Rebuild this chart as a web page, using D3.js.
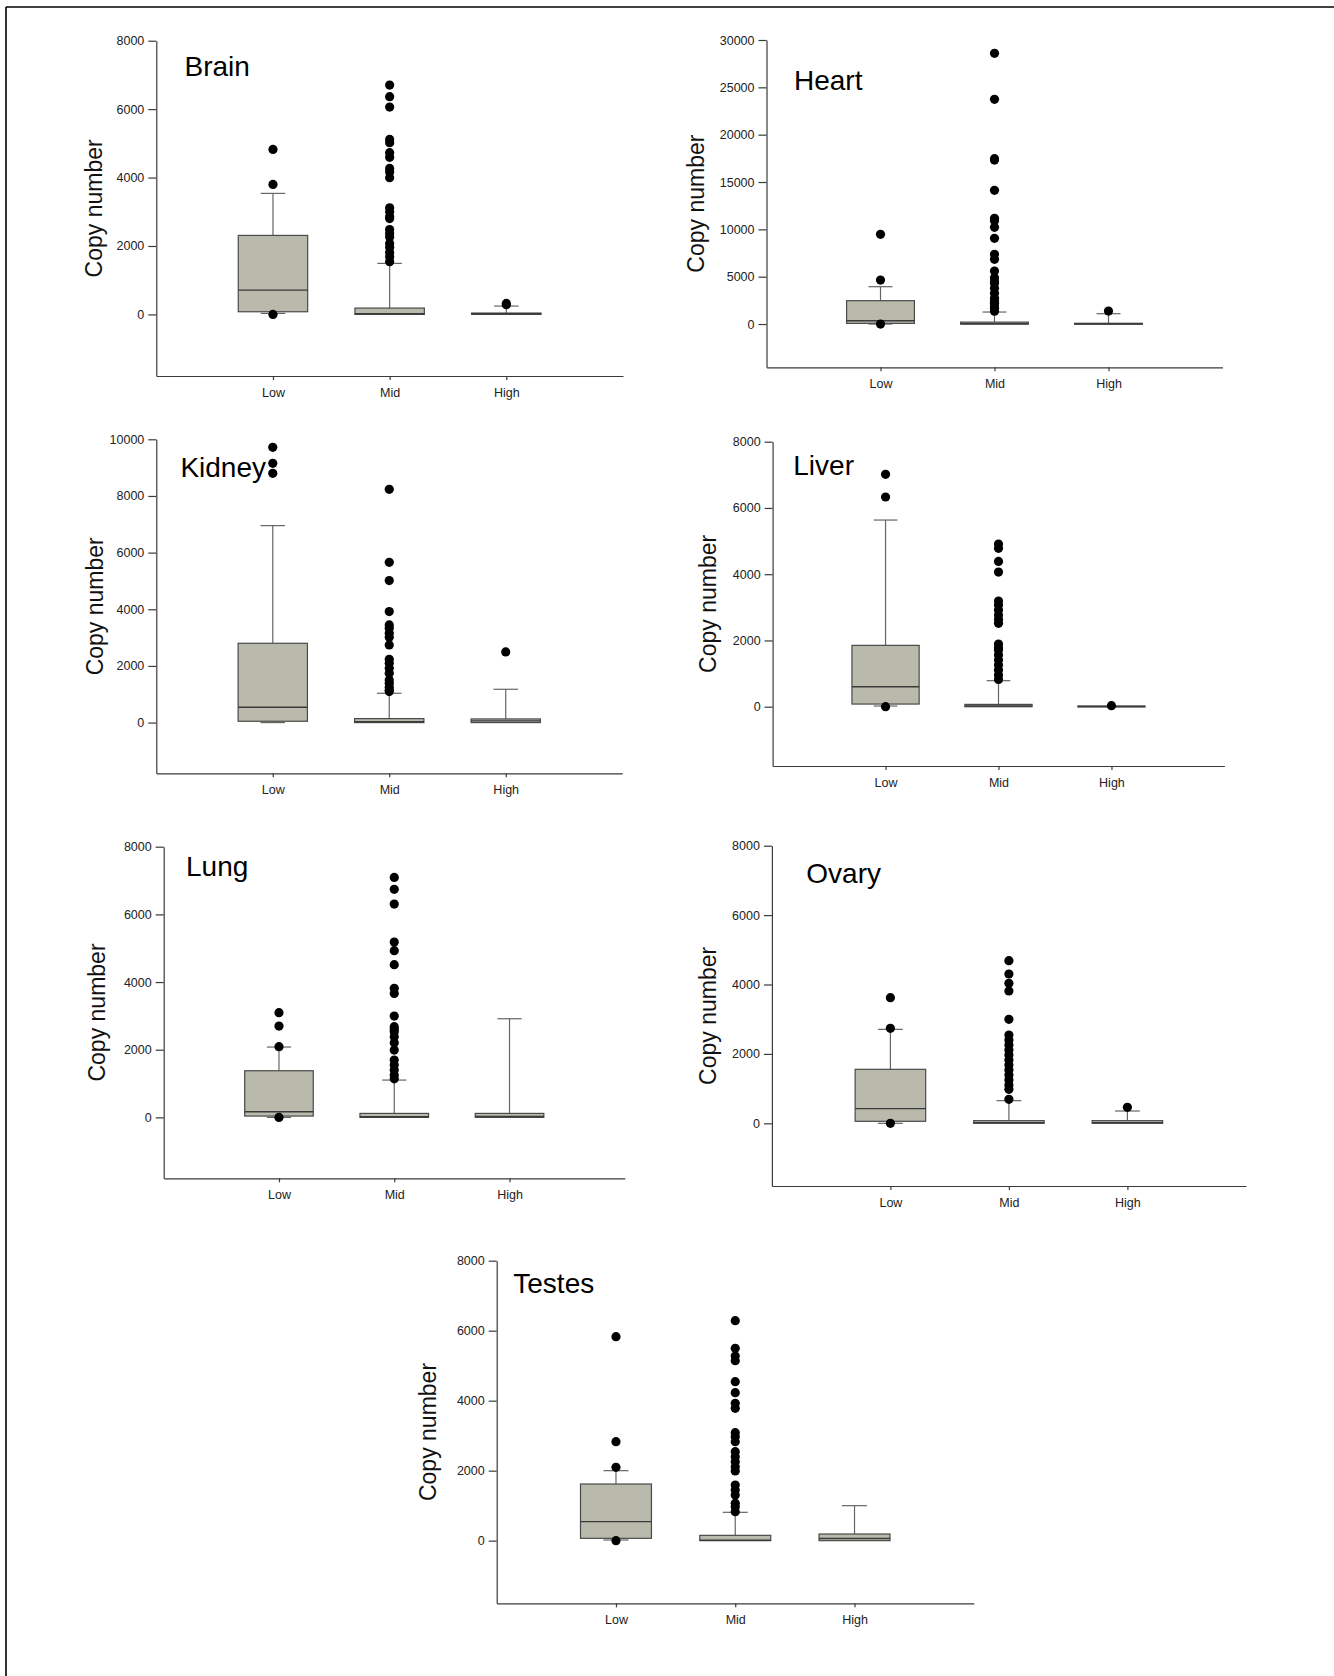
<!DOCTYPE html>
<html>
<head>
<meta charset="utf-8">
<script src="https://cdn.jsdelivr.net/npm/d3@7"></script>
<style>
  body { margin: 0; background: #fff; }
  svg text { font-family: "Liberation Sans", Arial, sans-serif; }
</style>
</head>
<body>
<div id="graph"></div>
<script>
const groups = ["Low", "Mid", "High"];

// each box: [lower whisker, Q1, median, Q3, upper whisker]
const brainBoxes = [[30, 78, 711, 2309, 3537], [0, 0, 20, 185, 1491], [0, 0, 20, 40, 244]];
const brainOutliers = [
  [4823, 3800, 0],
  [6704, 6363, 6061, 5115, 5018, 4726, 4590, 4268, 4160, 3995, 3118, 3000, 2855, 2800, 2480, 2368, 2260, 2075, 1960, 1810, 1680, 1540],
  [320, 285]
];

const heartBoxes = [[0, 70, 352, 2465, 3944], [0, 0, 30, 200, 1268], [0, 0, 20, 80, 1092]];
const heartOutliers = [
  [9472, 4648, 0],
  [28592, 23732, 17464, 17320, 14120, 11162, 10900, 10211, 9049, 7359, 6831, 5598, 4894, 4500, 4296, 3767, 3239, 2711, 2400, 2183, 1900, 1655, 1350],
  [1373]
];

const kidneyBoxes = [[0, 47, 541, 2800, 6953], [0, 0, 30, 141, 1035], [0, 0, 60, 129, 1176]];
const kidneyOutliers = [
  [9718, 9153, 8800],
  [8235, 5659, 5012, 3918, 3447, 3329, 3153, 3012, 2741, 2235, 2094, 1918, 1741, 1506, 1388, 1250, 1153, 1094],
  [2494]
];

const liverBoxes = [[20, 80, 604, 1852, 5635], [0, 0, 20, 70, 785], [0, 0, 10, 20, 20]];
const liverOutliers = [
  [7014, 6330, 0],
  [4911, 4780, 4387, 4065, 3190, 3069, 2918, 2767, 2636, 2516, 1892, 1780, 1711, 1560, 1409, 1258, 1107, 956, 825],
  [30]
];

const lungBoxes = [[0, 39, 167, 1379, 2079], [0, 0, 20, 118, 1103], [0, 0, 30, 118, 2916]];
const lungOutliers = [
  [3094, 2699, 2090, 0],
  [7093, 6739, 6305, 5182, 4926, 4512, 3813, 3665, 2995, 2680, 2600, 2532, 2384, 2207, 1990, 1694, 1547, 1399, 1251, 1140],
  []
];

const ovaryBoxes = [[0, 58, 423, 1556, 2708], [0, 0, 20, 77, 653], [0, 0, 20, 77, 355]];
const ovaryOutliers = [
  [3621, 2737, 0],
  [4687, 4303, 4034, 3813, 2996, 2545, 2401, 2257, 2113, 1969, 1825, 1681, 1537, 1393, 1249, 1104, 980, 691],
  [461]
];

const testesBoxes = [[19, 67, 543, 1619, 2000], [0, 0, 10, 152, 810], [0, 0, 60, 190, 1000]];
const testesOutliers = [
  [5829, 2829, 2095, 0],
  [6286, 5495, 5276, 5143, 4543, 4229, 3924, 3781, 3086, 2971, 2829, 2543, 2400, 2257, 2114, 1990, 1590, 1448, 1305, 1067, 971, 829],
  []
];

// page layout of each panel (pixels)
const panels = [
  { name: "Brain", boxes: brainBoxes, outliers: brainOutliers, yMin: -1800, yMax: 8000, step: 2000,
    left: 156.3, right: 623, top: 40.7, bottom: 376, titleX: 184.5, titleY: 76, labelOff: 61 },
  { name: "Heart", boxes: heartBoxes, outliers: heartOutliers, yMin: -4570, yMax: 30000, step: 5000,
    left: 766.5, right: 1222.5, top: 40, bottom: 367.3, titleX: 794, titleY: 90, labelOff: 69 },
  { name: "Kidney", boxes: kidneyBoxes, outliers: kidneyOutliers, yMin: -1790, yMax: 10000, step: 2000,
    left: 156.3, right: 622.2, top: 439.3, bottom: 773.3, titleX: 180.4, titleY: 477, labelOff: 60 },
  { name: "Liver", boxes: liverBoxes, outliers: liverOutliers, yMin: -1790, yMax: 8000, step: 2000,
    left: 772.6, right: 1224.4, top: 441.7, bottom: 766, titleX: 793.3, titleY: 475, labelOff: 62.6 },
  { name: "Lung", boxes: lungBoxes, outliers: lungOutliers, yMin: -1800, yMax: 8000, step: 2000,
    left: 163.7, right: 624.8, top: 846.7, bottom: 1178.3, titleX: 186, titleY: 876, labelOff: 64.8 },
  { name: "Ovary", boxes: ovaryBoxes, outliers: ovaryOutliers, yMin: -1806, yMax: 8000, step: 2000,
    left: 771.9, right: 1245.9, top: 845.7, bottom: 1186, titleX: 806.3, titleY: 883, labelOff: 62 },
  { name: "Testes", boxes: testesBoxes, outliers: testesOutliers, yMin: -1790, yMax: 8000, step: 2000,
    left: 496.7, right: 973.8, top: 1260.7, bottom: 1603.3, titleX: 513.3, titleY: 1293, labelOff: 67 }
];

const w = 1334;
const h = 1676;

const svg = d3.select("#graph")
  .append("svg")
  .attr("width", w)
  .attr("height", h);

svg.append("rect").attr("width", w).attr("height", h).attr("fill", "#fff");

// frame lines on top and left edge
svg.append("line").attr("x1", 6).attr("x2", w).attr("y1", 7).attr("y2", 7)
  .attr("stroke", "#000").attr("stroke-width", 1.6);
svg.append("line").attr("x1", 6).attr("x2", 6).attr("y1", 7).attr("y2", h)
  .attr("stroke", "#000").attr("stroke-width", 1.6);

panels.forEach(function (p) {
  const g = svg.append("g");

  const xScale = d3.scaleLinear().domain([0, 4]).range([p.left, p.right]);
  const yScale = d3.scaleLinear().domain([p.yMin, p.yMax]).range([p.bottom, p.top]);

  const band = xScale(1) - xScale(0);
  const boxW = band * 0.595;
  const capW = band * 0.21;

  const yAxis = d3.axisLeft(yScale)
    .tickValues(d3.range(0, p.yMax + 1, p.step))
    .tickFormat(d3.format("d"))
    .tickSize(8)
    .tickSizeOuter(0)
    .tickPadding(4);

  const xAxis = d3.axisBottom(xScale)
    .tickValues([1, 2, 3])
    .tickFormat((d) => groups[d - 1])
    .tickSize(4)
    .tickSizeOuter(0)
    .tickPadding(8);

  g.append("g")
    .attr("transform", `translate(${p.left}, 0)`)
    .call(yAxis);

  g.append("g")
    .attr("transform", `translate(0, ${p.bottom})`)
    .call(xAxis);

  g.selectAll(".domain, .tick line").attr("stroke", "#3a3a3a").attr("stroke-width", 1.2);
  g.selectAll(".tick text").attr("font-size", 12.5).attr("fill", "#222");

  g.append("text")
    .attr("transform", `translate(${p.left - p.labelOff}, ${(p.top + p.bottom) / 2}) rotate(-90)`)
    .attr("text-anchor", "middle")
    .attr("dy", "0.28em")
    .attr("font-size", 23)
    .attr("fill", "#111")
    .text("Copy number");

  g.append("text")
    .attr("x", p.titleX)
    .attr("y", p.titleY)
    .attr("font-size", 28)
    .attr("fill", "#000")
    .text(p.name);

  const boxData = p.boxes.map((b, i) => ({ i: i + 1, lo: b[0], q1: b[1], med: b[2], q3: b[3], hi: b[4] }));

  // whiskers
  g.selectAll(".whisker-up")
    .data(boxData)
    .enter()
    .append("line")
    .attr("x1", (d) => xScale(d.i))
    .attr("x2", (d) => xScale(d.i))
    .attr("y1", (d) => yScale(d.q3))
    .attr("y2", (d) => yScale(d.hi))
    .attr("stroke", "#666")
    .attr("stroke-width", 1.2);

  g.selectAll(".whisker-down")
    .data(boxData)
    .enter()
    .append("line")
    .attr("x1", (d) => xScale(d.i))
    .attr("x2", (d) => xScale(d.i))
    .attr("y1", (d) => yScale(d.q1))
    .attr("y2", (d) => yScale(d.lo))
    .attr("stroke", "#666")
    .attr("stroke-width", 1.2);

  // caps
  g.selectAll(".cap-up")
    .data(boxData.filter((d) => d.hi > d.q3))
    .enter()
    .append("line")
    .attr("x1", (d) => xScale(d.i) - capW / 2)
    .attr("x2", (d) => xScale(d.i) + capW / 2)
    .attr("y1", (d) => yScale(d.hi))
    .attr("y2", (d) => yScale(d.hi))
    .attr("stroke", "#666")
    .attr("stroke-width", 1.2);

  g.selectAll(".cap-down")
    .data(boxData.filter((d) => d.lo < d.q1))
    .enter()
    .append("line")
    .attr("x1", (d) => xScale(d.i) - capW / 2)
    .attr("x2", (d) => xScale(d.i) + capW / 2)
    .attr("y1", (d) => yScale(d.lo))
    .attr("y2", (d) => yScale(d.lo))
    .attr("stroke", "#666")
    .attr("stroke-width", 1.2);

  // boxes
  g.selectAll(".box")
    .data(boxData)
    .enter()
    .append("rect")
    .attr("x", (d) => xScale(d.i) - boxW / 2)
    .attr("y", (d) => yScale(d.q3))
    .attr("width", boxW)
    .attr("height", (d) => Math.max(1, yScale(d.q1) - yScale(d.q3)))
    .attr("fill", "#b9baac")
    .attr("stroke", "#4a4a4a")
    .attr("stroke-width", 1.2);

  g.selectAll(".median")
    .data(boxData)
    .enter()
    .append("line")
    .attr("x1", (d) => xScale(d.i) - boxW / 2)
    .attr("x2", (d) => xScale(d.i) + boxW / 2)
    .attr("y1", (d) => yScale(d.med))
    .attr("y2", (d) => yScale(d.med))
    .attr("stroke", "#3a3a3a")
    .attr("stroke-width", 1.4);

  // outliers
  const pts = [];
  p.outliers.forEach((arr, i) => arr.forEach((v) => pts.push({ i: i + 1, v: v })));

  g.selectAll(".dot")
    .data(pts)
    .enter()
    .append("circle")
    .attr("cx", (d) => xScale(d.i))
    .attr("cy", (d) => yScale(d.v))
    .attr("r", 4.6)
    .attr("fill", "#000");
});
</script>
</body>
</html>
